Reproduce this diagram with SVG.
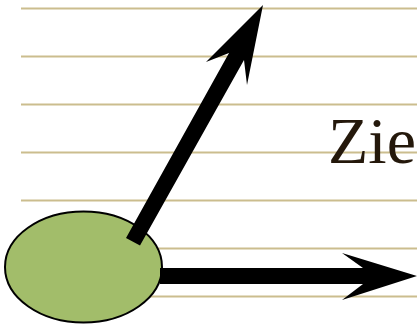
<svg xmlns="http://www.w3.org/2000/svg" width="417" height="324" viewBox="0 0 417 324">
<style>
.rule{stroke:#cbbd8e;stroke-width:2}
.arrow{fill:#000}
.node{fill:#a2bd6a;stroke:#000;stroke-width:2}
.lbl{font-family:"Liberation Serif","Times New Roman",serif;font-size:66px;fill:#24180b}
</style>
<rect width="417" height="324" fill="#fff"/>
<g id="rules">
<line class="rule" x1="21" y1="8.5" x2="417" y2="8.5"/>
<line class="rule" x1="21" y1="56.5" x2="417" y2="56.5"/>
<line class="rule" x1="21" y1="104.5" x2="417" y2="104.5"/>
<line class="rule" x1="21" y1="152.5" x2="417" y2="152.5"/>
<line class="rule" x1="21" y1="200.5" x2="417" y2="200.5"/>
<line class="rule" x1="21" y1="248.5" x2="417" y2="248.5"/>
<line class="rule" x1="21" y1="296.5" x2="417" y2="296.5"/>
</g>
<g id="label">
<text class="lbl" x="328" y="163">Ziel</text>
</g>
<g id="node">
<ellipse class="node" cx="83.5" cy="267" rx="78.5" ry="55.5"/>
</g>
<g id="connectors">
<polygon class="arrow" points="160,268 363,268 342,253 417,276 342,300 363,284 160,284"/>
<polygon class="arrow" points="126,238 229,53 206,62 263,5 247,85 244,60 140,245.5"/>
</g>
</svg>
